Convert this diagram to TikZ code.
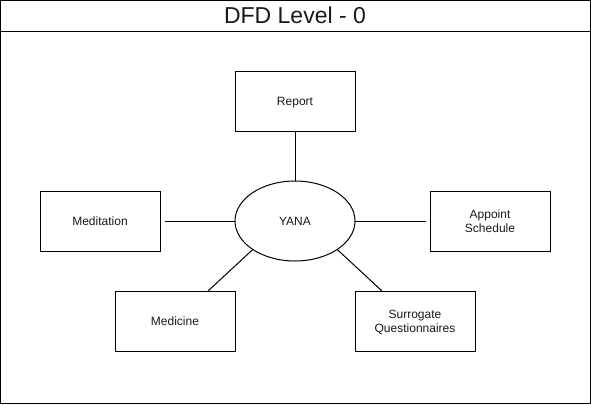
\documentclass[tikz,border=0pt]{standalone}
\usepackage{fontspec}
\setmainfont{Liberation Sans}
\usetikzlibrary{shapes.geometric,calc}
\begin{document}
\begin{tikzpicture}[x=1pt,y=-1pt,
  every path/.style={line width=1pt},
  entity/.style={draw,rectangle,minimum width=120pt,minimum height=60pt,inner sep=0pt,outer sep=0pt,align=center,text depth=0pt,font=\fontsize{12}{14}\selectfont,text=black!90},
  proc/.style={draw,ellipse,minimum width=120pt,minimum height=80pt,inner sep=0pt,outer sep=0pt,text depth=0pt,font=\fontsize{12}{14}\selectfont,text=black!90},
  link/.style={draw,line width=1pt}]
\useasboundingbox[fill=white] (0,0) rectangle (591,405);
\draw (0.5,0.5) rectangle (590,403.5);
\draw (0.5,31.5) -- (590,31.5);
\node[font=\fontsize{23}{26}\selectfont,text=black!90,anchor=base] (title) at (295,23.5) {DFD Level - 0};
\node[entity] (report) at (295,101) {Report};
\node[entity] (meditation) at (100,221) {Meditation};
\node[entity] (appoint) at (490,221) {Appoint\\Schedule};
\node[entity] (medicine) at (175,321) {Medicine};
\node[entity] (surrogate) at (415,321) {Surrogate\\Questionnaires};
\node[proc] (yana) at (295,221) {YANA};
\draw[link] (report) -- (yana);
\draw[link,shorten <=5pt] (meditation) -- (yana);
\draw[link,shorten >=4pt] (yana) -- (appoint);
\draw[link] (yana.214) -- ($(medicine.north)+(33,0)$);
\draw[link] (yana.326) -- ($(surrogate.north)+(-33,0)$);
\end{tikzpicture}
\end{document}
